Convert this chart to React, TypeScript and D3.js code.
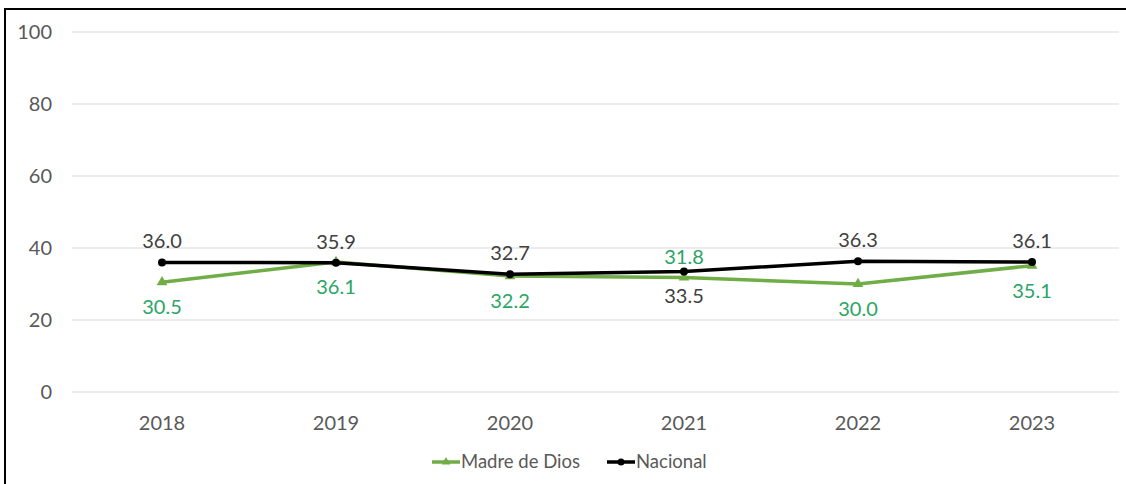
import React from "react";
import * as d3 from "d3";

const years = ["2018", "2019", "2020", "2021", "2022", "2023"];
const madre = [30.5, 36.1, 32.2, 31.8, 30.0, 35.1];
const nacional = [36.0, 35.9, 32.7, 33.5, 36.3, 36.1];
const yTicks = [0, 20, 40, 60, 80, 100];
// label placement: true = above
const madreAbove = [false, false, false, true, false, false];
const nacAbove = [true, true, true, false, true, true];

const W = 1126, H = 484;
const FONT = "Lato, 'Open Sans', sans-serif";

export default function App() {
  const x = d3.scaleBand().domain(years).range([75, 1119]);
  const y = d3.scaleLinear().domain([0, 100]).range([392, 32]);
  const cx = (d: string) => (x(d) as number) + x.bandwidth() / 2;
  const line = d3.line<number>().x((_, i) => cx(years[i])).y((v) => y(v));
  const tri = d3.symbol().type(d3.symbolTriangle).size(50)();
  const green = "#70AD47";
  const greenText = "#2AA565";
  return (
    <svg width={W} height={H} style={{ position: "absolute", left: 0, top: 0, background: "#fff" }}>
      <rect x={5} y={9} width={1130} height={490} fill="none" stroke="#000" strokeWidth={2} />
      {yTicks.map((t) => (
        <g key={t}>
          <line x1={72} x2={1119} y1={y(t)} y2={y(t)} stroke="#D9D9D9" strokeWidth={1} />
          <text x={52} y={y(t)} dy="0.35em" textAnchor="end" fontFamily={FONT} fontSize={20} fill="#595959">{t}</text>
        </g>
      ))}
      {years.map((yr) => (
        <text key={yr} x={cx(yr)} y={423} dy="0.35em" textAnchor="middle" fontFamily={FONT} fontSize={20} fill="#595959">{yr}</text>
      ))}
      <path d={line(madre) || ""} fill="none" stroke={green} strokeWidth={3.5} />
      {madre.map((v, i) => (
        <path key={i} d={tri} transform={`translate(${cx(years[i])},${y(v)})`} fill={green} />
      ))}
      <path d={line(nacional) || ""} fill="none" stroke="#000" strokeWidth={3.5} />
      {nacional.map((v, i) => (
        <circle key={i} cx={cx(years[i])} cy={y(v)} r={4} fill="#000" />
      ))}
      {nacional.map((v, i) => (
        <text key={i} x={cx(years[i])} y={y(v) + (nacAbove[i] ? -21 : 25)} dy="0.35em" textAnchor="middle" fontFamily={FONT} fontSize={20} fill="#404040">{v.toFixed(1)}</text>
      ))}
      {madre.map((v, i) => (
        <text key={i} x={cx(years[i])} y={y(v) + (madreAbove[i] ? -21 : 25)} dy="0.35em" textAnchor="middle" fontFamily={FONT} fontSize={20} fill={greenText}>{v.toFixed(1)}</text>
      ))}
      <g transform="translate(432,462)">
        <line x1={0} x2={28} y1={0} y2={0} stroke={green} strokeWidth={3.5} />
        <path d={tri} transform="translate(14,0) scale(0.8)" fill={green} />
        <text x={29} y={0} dy="0.35em" fontFamily={FONT} fontSize={18.5} fill="#595959">Madre de Dios</text>
      </g>
      <g transform="translate(607,462)">
        <line x1={0} x2={28} y1={0} y2={0} stroke="#000" strokeWidth={3.5} />
        <circle cx={14} cy={0} r={3.5} fill="#000" />
        <text x={29} y={0} dy="0.35em" fontFamily={FONT} fontSize={18.5} fill="#595959">Nacional</text>
      </g>
    </svg>
  );
}
